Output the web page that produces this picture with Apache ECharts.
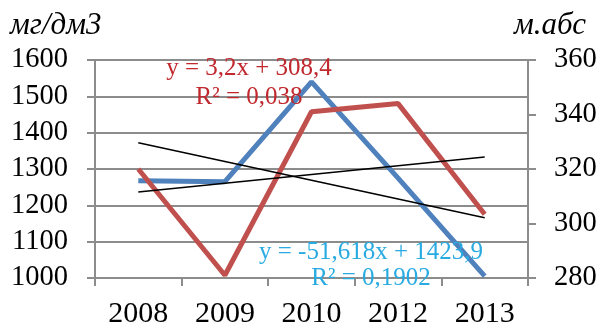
<!DOCTYPE html>
<html>
<head>
<meta charset="utf-8">
<script src="https://cdn.jsdelivr.net/npm/echarts@6/dist/echarts.min.js"></script>
<style>
  html, body { margin: 0; padding: 0; background: #fff; }
  #chart { width: 600px; height: 329px; }
</style>
</head>
<body>
<div id="chart"></div>
<script>
// Years on the category axis
const years = ['2008', '2009', '2010', '2012', '2013'];

// Concentration, mg/dm3 (left axis)
const concentration = [1268, 1265, 1540, 1275, 1005];

// Absolute elevation, m (right axis)
const elevation = [320, 281, 341, 344, 303.4];

// Linear trend coefficients as printed on the chart
const concTrend = { slope: -51.618, intercept: 1423.9, r2: '0,1902' };
const elevTrend = { slope: 3.2, intercept: 308.4, r2: '0,038' };

// Axis ranges
const leftAxis = { min: 1000, max: 1600, step: 100, title: 'мг/дм3' };
const rightAxis = { min: 280, max: 360, step: 20, title: 'м.абс' };

const trendPoints = (t) => years.map((_, i) => +(t.intercept + t.slope * (i + 1)).toFixed(3));
const fmt = (v) => String(v).replace('.', ',');

const SERIF = 'Liberation Serif';
const GRID = '#8c8c8c';

const chart = echarts.init(document.getElementById('chart'), null, { renderer: 'canvas' });

chart.setOption({
  animation: false,
  backgroundColor: '#fff',
  textStyle: { fontFamily: SERIF },
  grid: { left: 95, right: 72, top: 60, bottom: 50 },
  xAxis: {
    type: 'category',
    data: years,
    boundaryGap: true,
    axisLine: { lineStyle: { color: GRID, width: 2 } },
    axisTick: { show: true, length: 8, lineStyle: { color: GRID, width: 2 } },
    axisLabel: { color: '#000', fontFamily: SERIF, fontSize: 30, margin: 21 },
    splitLine: { show: false }
  },
  yAxis: [
    {
      type: 'value',
      min: leftAxis.min, max: leftAxis.max, interval: leftAxis.step,
      axisLine: { show: true, lineStyle: { color: GRID, width: 2 } },
      axisTick: { show: true, length: 8, lineStyle: { color: GRID, width: 2 } },
      axisLabel: { color: '#000', fontFamily: SERIF, fontSize: 28.5, margin: 27, formatter: (v) => String(v) },
      splitLine: { show: true, lineStyle: { color: GRID, width: 2 } }
    },
    {
      type: 'value',
      position: 'right',
      min: rightAxis.min, max: rightAxis.max, interval: rightAxis.step,
      axisLine: { show: true, lineStyle: { color: GRID, width: 2 } },
      axisTick: { show: true, length: 8, lineStyle: { color: GRID, width: 2 } },
      axisLabel: { color: '#000', fontFamily: SERIF, fontSize: 28.5, margin: 26, formatter: (v) => String(v) },
      splitLine: { show: false }
    }
  ],
  series: [
    {
      name: 'мг/дм3',
      type: 'line',
      data: concentration,
      yAxisIndex: 0,
      symbol: 'none',
      lineStyle: { color: '#4f81bd', width: 5 },
      z: 2
    },
    {
      name: 'м.абс',
      type: 'line',
      data: elevation,
      yAxisIndex: 1,
      symbol: 'none',
      lineStyle: { color: '#c0504d', width: 5 },
      z: 3
    },
    {
      name: 'trend-conc',
      type: 'line',
      data: trendPoints(concTrend),
      yAxisIndex: 0,
      symbol: 'none',
      lineStyle: { color: '#000', width: 1.5 },
      z: 4
    },
    {
      name: 'trend-elev',
      type: 'line',
      data: trendPoints(elevTrend),
      yAxisIndex: 1,
      symbol: 'none',
      lineStyle: { color: '#000', width: 1.5 },
      z: 4
    }
  ],
  graphic: [
    {
      type: 'text', left: 10, top: 10, z: 10,
      style: { text: leftAxis.title, fontStyle: 'italic', fontSize: 31, fontFamily: SERIF, fill: '#000' }
    },
    {
      type: 'text', left: 514, top: 10, z: 10,
      style: { text: rightAxis.title, fontStyle: 'italic', fontSize: 31, fontFamily: SERIF, fill: '#000' }
    },
    {
      type: 'text', x: 249, y: 68, z: 10,
      style: {
        text: 'y = ' + fmt(elevTrend.slope) + 'x + ' + fmt(elevTrend.intercept),
        fontSize: 25, fontFamily: SERIF, fill: '#c0282d', align: 'center', verticalAlign: 'middle'
      }
    },
    {
      type: 'text', x: 249, y: 97, z: 10,
      style: {
        text: 'R² = ' + elevTrend.r2,
        fontSize: 25, fontFamily: SERIF, fill: '#c0282d', align: 'center', verticalAlign: 'middle'
      }
    },
    {
      type: 'text', x: 371, y: 252, z: 10,
      style: {
        text: 'y = ' + fmt(concTrend.slope) + 'x + ' + fmt(concTrend.intercept),
        fontSize: 25, fontFamily: SERIF, fill: '#29abe2', align: 'center', verticalAlign: 'middle'
      }
    },
    {
      type: 'text', x: 371, y: 278, z: 10,
      style: {
        text: 'R² = ' + concTrend.r2,
        fontSize: 25, fontFamily: SERIF, fill: '#29abe2', align: 'center', verticalAlign: 'middle'
      }
    }
  ]
});
</script>
</body>
</html>
